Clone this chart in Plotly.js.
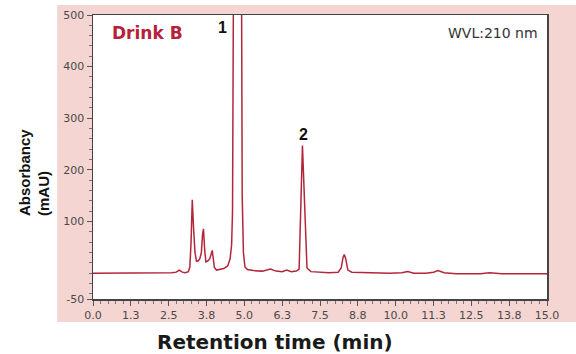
<!DOCTYPE html>
<html>
<head>
<meta charset="utf-8">
<script src="https://cdn.plot.ly/plotly-3.0.1.min.js"></script>
<style>html,body{margin:0;padding:0;background:#fff;}#chart{width:576px;height:354px;}</style>
</head>
<body>
<div id="chart"></div>
<script>
// Retention time (min)
const time = [0, 1.0, 2.0, 2.6, 2.75, 2.85, 2.95, 3.05, 3.15, 3.2, 3.24, 3.28, 3.32, 3.37, 3.42, 3.48, 3.53, 3.58, 3.62, 3.65, 3.69, 3.73, 3.8, 3.86, 3.91, 3.94, 3.97, 4.01, 4.08, 4.2, 4.32, 4.45, 4.53, 4.58, 4.61, 4.65, 4.78, 4.9, 4.93, 4.97, 5.02, 5.1, 5.3, 5.6, 5.86, 6.05, 6.25, 6.4, 6.55, 6.72, 6.81, 6.92, 7.07, 7.2, 7.4, 7.8, 8.1, 8.2, 8.26, 8.3, 8.35, 8.42, 8.55, 9.0, 9.8, 10.2, 10.4, 10.6, 11.0, 11.25, 11.4, 11.6, 12.0, 12.8, 13.1, 13.5, 14.0, 15.0];
// Absorbance (mAU)
const absorbance = [0, 0, 0, 1, 2, 6, 2, 1, 3, 12, 60, 142, 90, 40, 23, 24, 28, 40, 75, 86, 45, 22, 24, 28, 38, 44, 30, 11, 6, 7, 9, 14, 28, 55, 120, 700, 1600, 700, 150, 40, 12, 7, 5, 4, 8, 4, 3, 6, 3, 4, 8, 247, 10, 3, 2, 1, 2, 10, 30, 36, 28, 6, 2, 1, 0, 1, 3, 0, 0, 2, 5, 1, -1, -1, 1, -1, -1, -1];

const xTickVals = [0, 1.25, 2.5, 3.75, 5, 6.25, 7.5, 8.75, 10, 11.25, 12.5, 13.75, 15];
const xTickText = ['0.0', '1.3', '2.5', '3.8', '5.0', '6.3', '7.5', '8.8', '10.0', '11.3', '12.5', '13.8', '15.0'];
const yTickVals = [-50, 100, 200, 300, 400, 500];
const yTickText = ['-50', '100', '200', '300', '400', '500'];

const peakLabels = ['1', '2'];
const peakLabelX = [4.29, 6.95];
const peakLabelY = [475, 268];

const trace = {
  x: time, y: absorbance, type: 'scatter', mode: 'lines',
  line: {color: '#b3263a', width: 1.5}, hoverinfo: 'skip', cliponaxis: true
};

const annotations = peakLabels.map((t, i) => ({
  x: peakLabelX[i], y: peakLabelY[i], xref: 'x', yref: 'y', text: '<b>' + t + '</b>', showarrow: false,
  font: {family: 'Liberation Sans, Arial, sans-serif', size: 16, color: '#111'}
}));
annotations.push(
  {x: 0.037, y: 0.937, xref: 'paper', yref: 'paper', xanchor: 'left', yanchor: 'middle', text: '<b>Drink B</b>', showarrow: false,
   font: {family: 'DejaVu Sans, Verdana, sans-serif', size: 17, color: '#b5203a'}},
  {x: 0.985, y: 0.937, xref: 'paper', yref: 'paper', xanchor: 'right', yanchor: 'middle', text: 'WVL:210 nm', showarrow: false,
   font: {family: 'DejaVu Sans, Verdana, sans-serif', size: 14, color: '#333'}},
  {x: -0.13, y: 0.447, xref: 'paper', yref: 'paper', xanchor: 'center', yanchor: 'middle', textangle: -90, align: 'left',
   text: '<b>Absorbancy</b><br><b>(mAU)</b>', showarrow: false,
   font: {family: 'Liberation Sans, Arial, sans-serif', size: 15, color: '#111'}},
  {x: 0.401, y: -0.151, xref: 'paper', yref: 'paper', xanchor: 'center', yanchor: 'middle', text: '<b>Retention time (min)</b>', showarrow: false,
   font: {family: 'DejaVu Sans, Verdana, sans-serif', size: 20, color: '#1a1a1a'}}
);

const layout = {
  width: 576, height: 354,
  margin: {l: 93, r: 29, t: 15, b: 55},
  paper_bgcolor: '#ffffff', plot_bgcolor: '#ffffff',
  showlegend: false,
  shapes: [
    {type: 'rect', xref: 'paper', yref: 'paper', x0: -0.079, x1: 1.07, y0: -0.081, y1: 1.035, fillcolor: '#f4d5d2', line: {width: 0}, layer: 'below'},
    {type: 'rect', xref: 'paper', yref: 'paper', x0: 0, x1: 1, y0: 0, y1: 1, fillcolor: '#ffffff', line: {width: 0}, layer: 'below'}
  ],
  xaxis: {
    range: [0, 15], tickmode: 'array', tickvals: xTickVals, ticktext: xTickText,
    ticks: 'outside', ticklen: 5, tickcolor: '#555', tickwidth: 1,
    minor: {tickmode: 'linear', tick0: 0, dtick: 0.25, ticks: 'outside', ticklen: 3, tickcolor: '#777'},
    showline: true, linecolor: '#444', linewidth: 1.5, mirror: true,
    showgrid: false, zeroline: false,
    tickfont: {family: 'DejaVu Sans, Verdana, sans-serif', size: 11, color: '#4a4a4a'}
  },
  yaxis: {
    range: [-50, 500], tickmode: 'array', tickvals: yTickVals, ticktext: yTickText,
    ticks: 'outside', ticklen: 5, tickcolor: '#555', tickwidth: 1,
    minor: {tickmode: 'linear', tick0: 0, dtick: 20, ticks: 'outside', ticklen: 3, tickcolor: '#777'},
    showline: true, linecolor: '#444', linewidth: 1.5, mirror: true,
    showgrid: false, zeroline: false,
    tickfont: {family: 'DejaVu Sans, Verdana, sans-serif', size: 11, color: '#4a4a4a'}
  },
  annotations: annotations
};

Plotly.newPlot('chart', [trace], layout, {displayModeBar: false, staticPlot: true});
</script>
</body>
</html>
